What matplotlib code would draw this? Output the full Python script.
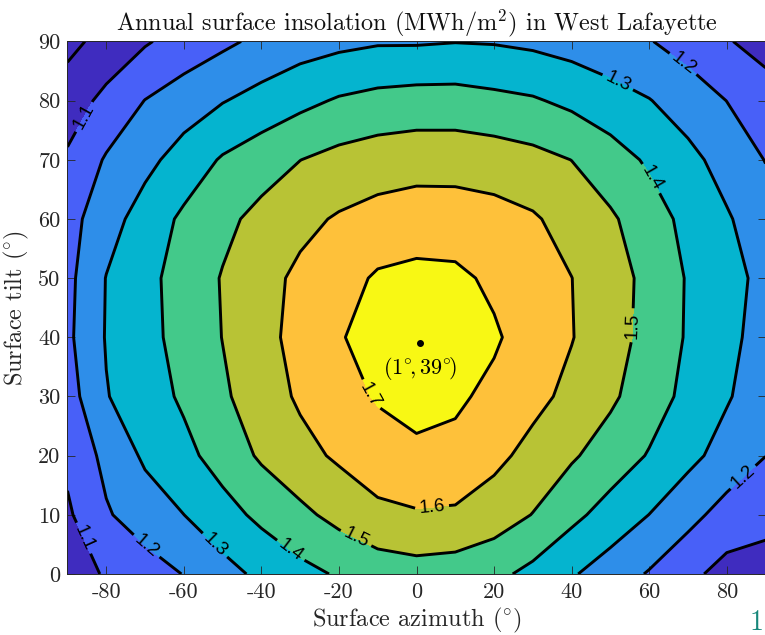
import numpy as np
import matplotlib
matplotlib.use('Agg')
import matplotlib.pyplot as plt

# ---------------- data ----------------
azimuth = [-90, -80, -70, -60, -50, -40, -30, -20, -10, 0, 10, 20, 30, 40, 50, 60, 70, 80, 90]
tilt = [0, 10, 20, 30, 40, 50, 60, 70, 80, 90]

# annual insolation (MWh/m^2); one row per tilt, one column per azimuth
insolation_t0 = [1.060, 1.108, 1.155, 1.203, 1.265, 1.322, 1.371, 1.410, 1.445, 1.460, 1.450, 1.425, 1.373, 1.310, 1.251, 1.192, 1.125, 1.065, 1.060]
insolation_t10 = [1.085, 1.190, 1.249, 1.2995, 1.363, 1.423, 1.477, 1.530, 1.575, 1.590, 1.585, 1.550, 1.497, 1.425, 1.361, 1.299, 1.231, 1.162, 1.130]
insolation_t20 = [1.122, 1.226, 1.316, 1.373, 1.441, 1.514, 1.569, 1.615, 1.660, 1.685, 1.675, 1.625, 1.569, 1.512, 1.454, 1.393, 1.327, 1.262, 1.201]
insolation_t30 = [1.156, 1.295, 1.355, 1.415, 1.485, 1.552, 1.614, 1.666, 1.708, 1.725, 1.715, 1.678, 1.628, 1.575, 1.517, 1.446, 1.374, 1.309, 1.245]
insolation_t40 = [1.180, 1.306, 1.370, 1.434, 1.502, 1.568, 1.633, 1.696, 1.720, 1.730, 1.725, 1.712, 1.656, 1.604, 1.540, 1.469, 1.390, 1.326, 1.261]
insolation_t50 = [1.173, 1.303, 1.372, 1.440, 1.506, 1.567, 1.620, 1.663, 1.712, 1.725, 1.720, 1.682, 1.641, 1.601, 1.541, 1.474, 1.392, 1.333, 1.273]
insolation_t60 = [1.164, 1.258, 1.344, 1.418, 1.476, 1.528, 1.575, 1.610, 1.635, 1.650, 1.648, 1.635, 1.611, 1.563, 1.514, 1.446, 1.372, 1.310, 1.245]
insolation_t70 = [1.114, 1.210, 1.272, 1.342, 1.410, 1.455, 1.499, 1.530, 1.550, 1.560, 1.560, 1.550, 1.530, 1.499, 1.443, 1.386, 1.327, 1.263, 1.197]
insolation_t80 = [1.050, 1.126, 1.202, 1.249, 1.295, 1.335, 1.374, 1.410, 1.430, 1.440, 1.440, 1.425, 1.410, 1.378, 1.341, 1.304, 1.253, 1.199, 1.150]
insolation_t90 = [0.973, 1.033, 1.090, 1.140, 1.180, 1.222, 1.255, 1.275, 1.290, 1.290, 1.297, 1.293, 1.280, 1.260, 1.233, 1.205, 1.160, 1.108, 1.060]

unlabelled_levels = [1.0]
labelled_levels = [1.1, 1.2, 1.3, 1.4, 1.5, 1.6, 1.7]
peak_azimuth = 1
peak_tilt = 39
xtick_values = [-80, -60, -40, -20, 0, 20, 40, 60, 80]
xtick_labels = ['-80', '-60', '-40', '-20', '0', '20', '40', '60', '80']
ytick_values = [0, 10, 20, 30, 40, 50, 60, 70, 80, 90]
ytick_labels = ['0', '10', '20', '30', '40', '50', '60', '70', '80', '90']

# ---------------- styling ----------------
plt.rcParams['mathtext.fontset'] = 'cm'
plt.rcParams['font.family'] = 'serif'
plt.rcParams['font.serif'] = ['cmr10']
plt.rcParams['axes.unicode_minus'] = False
plt.rcParams['axes.formatter.use_mathtext'] = True

band_colors = ['#3f2cbf', '#3f2cbf', '#4860f8', '#2e8ee9', '#05b4cf',
               '#43c98a', '#b8c335', '#fec13a', '#f8f814']
fill_levels = [0.8] + unlabelled_levels + labelled_levels + [1.9]

Z = np.array([insolation_t0, insolation_t10, insolation_t20, insolation_t30,
              insolation_t40, insolation_t50, insolation_t60, insolation_t70,
              insolation_t80, insolation_t90])
AZ, TI = np.meshgrid(azimuth, tilt)

fig = plt.figure(figsize=(7.65, 6.35), dpi=100)
ax = fig.add_axes([0.0882, 0.0961, 0.9125, 0.8386])

ax.contourf(AZ, TI, Z, levels=fill_levels, colors=band_colors)
ax.contour(AZ, TI, Z, levels=unlabelled_levels, colors='k', linewidths=2.1)
cs = ax.contour(AZ, TI, Z, levels=labelled_levels, colors='k', linewidths=2.1)

label_positions = [(-85, 77), (-86, 6), (-70.5, 4), (68.5, 86), (84, 16.5),
                   (53, 84.5), (-52.4, 4.6), (61, 67), (-33, 3.5), (57, 42),
                   (-16.7, 4.6), (4, 11.3), (-12.9, 30)]
with plt.rc_context({'font.family': 'Liberation Sans'}):
    ax.clabel(cs, manual=label_positions, inline=True,
              fontsize=13.5, fmt='%.1f', inline_spacing=4)

ax.plot([peak_azimuth], [peak_tilt], 'o', color='k', markersize=4)
ax.text(peak_azimuth, peak_tilt - 4.2, r'$(1^{\circ}\!,39^{\circ}\!)$', ha='center', va='center',
        fontsize=16, color='k')

ax.set_xlim(-90, 90)
ax.set_ylim(0, 90)
ax.set_xticks(xtick_values)
ax.set_xticklabels(xtick_labels)
ax.set_yticks(ytick_values)
ax.set_yticklabels(ytick_labels)
ax.tick_params(direction='in', top=True, right=True, length=6, width=0.6,
               color='#262626', labelcolor='#262626', labelsize=16)
ax.tick_params(axis='x', pad=6)
ax.tick_params(axis='y', pad=5)
for sp in ax.spines.values():
    sp.set_color('#262626')
    sp.set_linewidth(0.7)

ax.set_xlabel(r'Surface azimuth $(^{\circ})$', fontsize=17.5, color='#262626', labelpad=3)
ax.set_ylabel(r'Surface tilt $(^{\circ})$', fontsize=17.5, color='#262626', labelpad=5)
ax.set_title(r'Annual surface insolation (MWh/m$^2$) in West Lafayette', fontsize=17.5,
             color='#111111', pad=8)

fig.text(750 / 765, 1 - 630 / 635, '1', color='#17877a', fontsize=20, ha='left', va='baseline')

fig.savefig('out.png', dpi=100)
